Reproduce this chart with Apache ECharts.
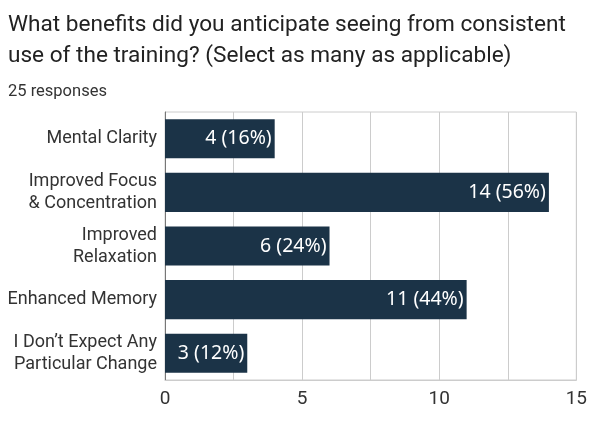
<!DOCTYPE html>
<html>
<head>
<meta charset="utf-8">
<script src="https://cdn.jsdelivr.net/npm/echarts@6/dist/echarts.min.js"></script>
<style>
  html, body { margin: 0; padding: 0; background: #fff; }
  #main { width: 590px; height: 442px; }
</style>
</head>
<body>
<div id="main"></div>
<script>
// Данные
let categories = [
  "Mental Clarity",
  "Improved Focus\n& Concentration",
  "Improved\nRelaxation",
  "Enhanced Memory",
  "I Don’t Expect Any\nParticular Change",
];
let counts = [4, 14, 6, 11, 3];
let totalResponses = 25;
let xTicks = [0, 5, 10, 15];

let colors = {
  bar: "#1b3347",
  text: "#333333",
  grid: "#cccccc",
};

let myChart = echarts.init(document.getElementById("main"));

let option = {
  animation: false,
  title: [
    {
      text: "What benefits did you anticipate seeing from consistent\nuse of the training? (Select as many as applicable)",
      left: 3,
      top: 5,
      textStyle: {
        fontFamily: "Roboto",
        fontWeight: 400,
        fontSize: 22.6,
        lineHeight: 31,
        color: "#222",
      },
    },
    {
      text: totalResponses + " responses",
      left: 3,
      top: 78,
      textStyle: {
        fontFamily: "Roboto",
        fontWeight: 400,
        fontSize: 16.5,
        color: "#333",
      },
    },
  ],
  grid: {
    left: 165,
    right: 12,
    top: 112,
    bottom: 62,
    show: true,
    borderColor: colors.grid,
    borderWidth: 1,
  },
  xAxis: {
    type: "value",
    min: xTicks[0],
    max: xTicks[xTicks.length - 1],
    interval: 2.5,
    axisLine: { show: true, lineStyle: { color: colors.grid } },
    axisTick: { show: false },
    splitLine: { show: true, lineStyle: { color: colors.grid } },
    axisLabel: {
      margin: 10,
      fontFamily: "Roboto",
      fontSize: 19,
      color: colors.text,
      formatter: (v) => (xTicks.indexOf(v) >= 0 ? String(v) : ""),
    },
  },
  yAxis: {
    type: "category",
    data: categories,
    inverse: true,
    axisLine: { show: true, lineStyle: { color: "#777" } },
    axisTick: { show: false },
    axisLabel: {
      margin: 8,
      fontFamily: "Roboto",
      fontSize: 18,
      lineHeight: 22,
      color: colors.text,
      align: "right",
    },
  },
  series: [
    {
      type: "bar",
      data: counts,
      barCategoryGap: "27%",
      itemStyle: { color: colors.bar },
      label: {
        show: true,
        position: "insideRight",
        distance: 3,
        color: "#fff",
        fontFamily: "Noto Sans",
        fontSize: 19.5,
        formatter: (p) =>
          p.value + " (" + Math.round((p.value * 100) / totalResponses) + "%)",
      },
    },
  ],
};

myChart.setOption(option);
</script>
</body>
</html>
